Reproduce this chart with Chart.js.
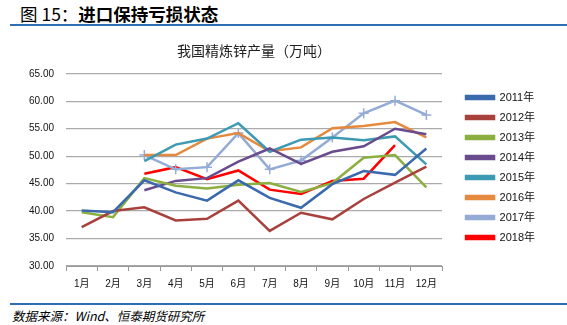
<!DOCTYPE html>
<html>
<head>
<meta charset="utf-8">
<script src="https://cdn.jsdelivr.net/npm/chart.js@4.4.1/dist/chart.umd.min.js"></script>
<style>
  body { margin: 0; width: 567px; height: 325px; background: #fff; overflow: hidden; position: relative;
         font-family: "Liberation Sans", "Noto Sans CJK SC", sans-serif; }
  #head { position: absolute; left: 20px; top: 1px; font-size: 17.5px; color: #000; font-family: "Noto Sans CJK SC", sans-serif; }
  #head b { font-weight: bold; }
  .rule { position: absolute; left: 10px; right: 0; height: 2px; background: #2f6db5; }
  #foot { position: absolute; left: 12px; top: 306px; font-size: 12.5px; font-style: italic; color: #000;
          font-family: "Noto Sans CJK SC", sans-serif; }
  #box { position: absolute; left: 0; top: 30px; width: 567px; height: 267px; }
</style>
</head>
<body>
<div id="head">图 15：<b>进口保持亏损状态</b></div>
<div class="rule" style="top:24px"></div>
<div id="box"><canvas id="zinc-chart"></canvas></div>
<div class="rule" style="top:303px"></div>
<div id="foot">数据来源：Wind、恒泰期货研究所</div>

<script>
// months on the x axis
let months = ['1月', '2月', '3月', '4月', '5月', '6月', '7月', '8月', '9月', '10月', '11月', '12月']

// refined zinc output per year (null = no data)
let y2011 = [40.1, 39.8, 45.6, 43.4, 41.9, 45.6, 42.4, 40.6, 44.9, 47.3, 46.6, 51.4]
let y2012 = [37.1, 40.0, 40.7, 38.3, 38.6, 41.9, 36.4, 39.7, 38.5, 42.2, 45.2, 48.1]
let y2013 = [39.8, 38.9, 46.0, 44.6, 44.1, 44.8, 45.1, 43.5, 45.1, 49.7, 50.2, 44.3]
let y2014 = [null, null, 43.8, 45.5, 46.0, 49.0, 51.4, 48.6, 50.8, 51.8, 55.0, 54.0]
let y2015 = [null, null, 49.1, 52.1, 53.2, 56.0, 50.8, 53.0, 53.4, 52.9, 53.6, 48.5]
let y2016 = [null, null, 50.2, 50.2, 53.2, 54.2, 50.9, 51.6, 55.1, 55.5, 56.2, 53.4]
let y2017 = [null, null, 50.2, 47.6, 48.0, 54.2, 47.6, 49.2, 53.4, 57.8, 60.1, 57.5]
let y2018 = [null, null, 46.8, 48.0, 45.8, 47.4, 43.9, 43.1, 45.5, 45.9, 52.0, null]

let yearNames = ['2011年', '2012年', '2013年', '2014年', '2015年', '2016年', '2017年', '2018年']
let yearValues = [y2011, y2012, y2013, y2014, y2015, y2016, y2017, y2018]
let lineColors = ['#3a69ad', '#a8403c', '#8bb040', '#6a4b8e', '#3c9ab3', '#e4893e', '#94abd6', '#ff0000']

let ctx = document.querySelector('#zinc-chart').getContext('2d')
let fontFamily = '"Liberation Sans", "Noto Sans CJK SC", sans-serif'

let datasets = yearNames.map(function(name, i) {
    let isCross = name == '2017年'
    return {
        label: name,
        data: yearValues[i],
        borderColor: lineColors[i],
        backgroundColor: lineColors[i],
        borderWidth: 2.5,
        pointStyle: isCross ? 'cross' : 'circle',
        pointRadius: isCross ? 5 : 0,
        pointBorderWidth: 1.5,
        tension: 0
    }
})

new Chart(ctx, {
    type: 'line',
    data: { labels: months, datasets: datasets },
    options: {
        responsive: true,
        maintainAspectRatio: false,
        animation: false,
        layout: { padding: { left: 17, right: 22, top: 8, bottom: 0 } },
        plugins: {
            title: {
                display: true,
                fullSize: false,
                text: '我国精炼锌产量（万吨）',
                color: '#222',
                font: { family: '"Noto Sans CJK SC", sans-serif', size: 14, weight: 'normal' },
                padding: { top: 4, bottom: 15 }
            },
            legend: {
                position: 'right',
                labels: {
                    boxWidth: 28,
                    boxHeight: 3,
                    padding: 9,
                    color: '#111',
                    font: { family: fontFamily, size: 11 }
                }
            },
            tooltip: { enabled: false }
        },
        scales: {
            x: {
                offset: true,
                grid: { display: true, offset: true, drawOnChartArea: false, drawTicks: true, tickLength: 5, color: '#999' },
                border: { display: true, color: '#999' },
                ticks: { color: '#111', font: { family: fontFamily, size: 10 }, padding: 7 }
            },
            y: {
                min: 30,
                max: 65,
                ticks: {
                    stepSize: 5,
                    color: '#111',
                    font: { family: fontFamily, size: 10 },
                    padding: 12,
                    callback: function(v) { return v.toFixed(2) }
                },
                grid: { color: '#aaa', lineWidth: 1.2, drawTicks: false },
                border: { display: false }
            },
            // empty right-hand axis, only keeps a gap between the plot and the legend
            gap: {
                position: 'right',
                display: true,
                grid: { display: false },
                border: { display: false },
                ticks: { display: false },
                afterFit: function(scale) { scale.width = 15 }
            }
        }
    }
})
</script>
</body>
</html>
